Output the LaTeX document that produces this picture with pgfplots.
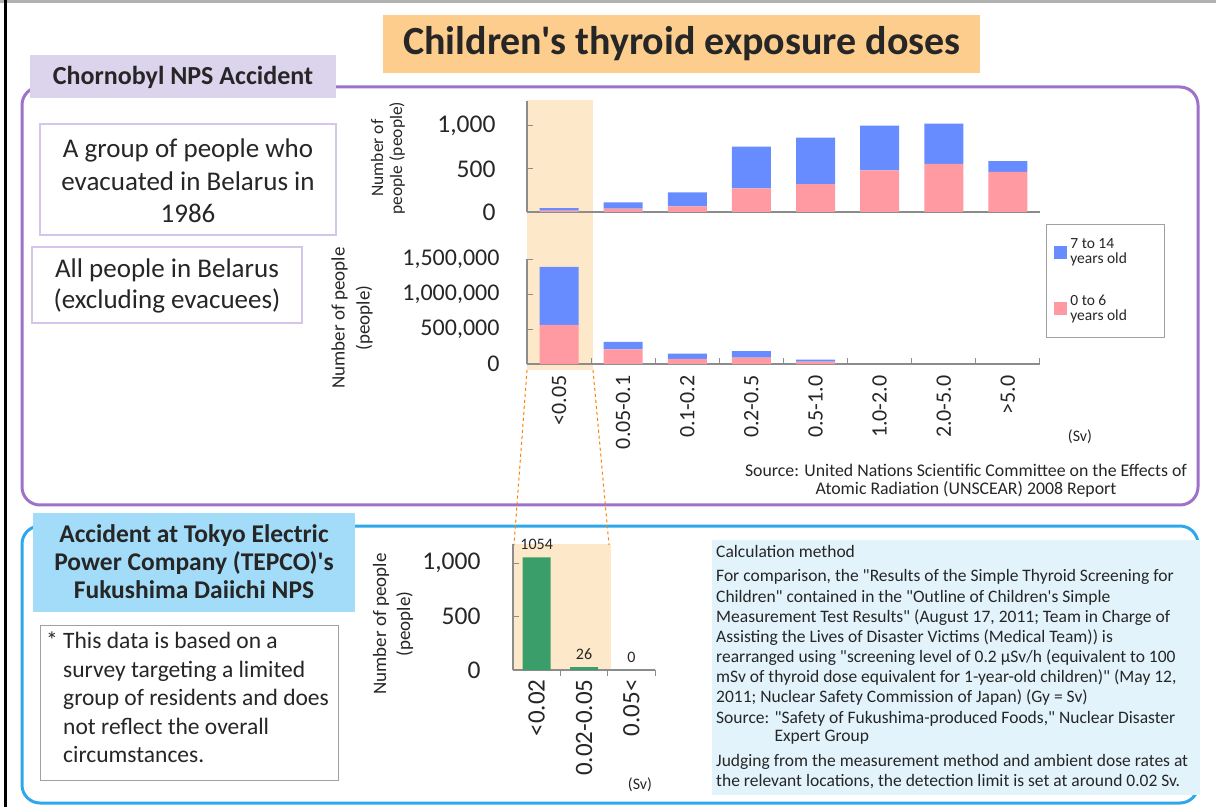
\documentclass[border=0pt]{standalone}
\usepackage{fontspec}
\setmainfont{Carlito}[Ligatures=TeXOff]
\usepackage{pgfplots}
\pgfplotsset{compat=1.18}
\definecolor{bluec}{HTML}{668CFF}
\definecolor{pinkc}{HTML}{FF9AA2}
\definecolor{greenc}{HTML}{3A9E6B}
\definecolor{purplec}{HTML}{9E72C9}
\definecolor{lavc}{HTML}{DCD3EC}
\definecolor{titleor}{HTML}{FCCD8C}
\definecolor{shadec}{HTML}{FDE8C9}
\definecolor{bluefr}{HTML}{2EA8EC}
\definecolor{bluelab}{HTML}{A3DCF8}
\definecolor{rboxc}{HTML}{E2F3FC}
\definecolor{boxpur}{HTML}{D3C6EA}
\definecolor{notegray}{HTML}{A0A0A0}
\definecolor{axgray}{HTML}{8C8C8C}
\definecolor{textc}{HTML}{262626}
\newcommand\fs[2]{\fontsize{#1}{#2}\selectfont}
\pgfplotsset{
  cbar/.style={
    scale only axis,
    axis x line*=bottom, axis y line*=left,
    axis line style={draw=axgray, line width=1.3pt},
    tick align=inside,
    major tick length=0pt, minor tick length=6pt,
    tick style={draw=axgray, line width=1pt},
    xmin=-0.5, ymin=0,
    clip=false,
    scaled y ticks=false,
    tick label style={text=textc},
  }
}
\begin{document}
\begin{tikzpicture}
\useasboundingbox (0,0) rectangle (1216pt,807pt);
\begin{scope}[x=1pt,y=-1pt,yshift=807pt]
  % outer edges
  \draw[gray!60, line width=4pt] (0,1) -- (1216,1);
  \draw[black, line width=3pt] (5,0) -- (5,807);
  % title
  \fill[titleor] (383,15) rectangle (980,73);
  % purple frame
  \draw[purplec, line width=3pt, rounded corners=18pt] (22,87) rectangle (1198,505);
  \fill[lavc] (30,55) rectangle (336,98);
  \draw[boxpur, line width=1.5pt, fill=white] (40,124) rectangle (336,235);
  \draw[boxpur, line width=1.5pt, fill=white] (32,247) rectangle (302,323);
  % blue frame
  \draw[bluefr, line width=3pt, rounded corners=18pt] (22,526) rectangle (1198,803);
  \fill[bluelab] (33,513) rectangle (355,612);
  \draw[notegray, line width=1pt, fill=white] (40,625) rectangle (338,780);
  \fill[rboxc] (712,540) rectangle (1200,795);
  % shading
  \fill[shadec] (527,100) rectangle (593,370);
  \fill[shadec] (513,544) rectangle (611,670);
  \draw[orange, dashed, line width=1pt] (527,370) -- (514,545);
  \draw[orange, dashed, line width=1pt] (593,370) -- (609,545);
\end{scope}

% top chart: evacuees
\begin{axis}[cbar, at={(527pt,595pt)}, anchor=south west,
  width=513pt, height=111pt, xmax=7.5, ymax=1290,
  ybar stacked, bar width=39pt,
  xtick=\empty, minor xtick={0.5,1.5,2.5,3.5,4.5,5.5,6.5,7.5},
  ytick={0,500,1000}, yticklabels={0,500,{1,000}},
  minor ytick={500,1000},
  yticklabel style={font=\fs{25.5}{25.5}, xshift=-28pt},
]
\addplot+[fill=pinkc, draw=none] coordinates {(0,15)(1,39)(2,66)(3,274)(4,324)(5,483)(6,560)(7,467)};
\addplot+[fill=bluec, draw=none] coordinates {(0,31)(1,73)(2,162)(3,486)(4,541)(5,521)(6,467)(7,124)};
\end{axis}

% lower chart: all Belarus
\begin{axis}[cbar, at={(527pt,443pt)}, anchor=south west,
  width=513pt, height=105pt, xmax=7.5, ymax=1510000,
  ybar stacked, bar width=39pt,
  xtick={0,1,2,3,4,5,6,7},
  xticklabels={<0.05,0.05-0.1,0.1-0.2,0.2-0.5,0.5-1.0,1.0-2.0,2.0-5.0,>5.0},
  xticklabel style={font=\fs{22}{22}, rotate=90, anchor=east, xshift=-8pt},
  minor xtick={0.5,1.5,2.5,3.5,4.5,5.5,6.5,7.5},
  ytick={0,500000,1000000,1500000}, yticklabels={0,{500,000},{1,000,000},{1,500,000}},
  minor ytick={500000,1000000,1500000},
  yticklabel style={font=\fs{24}{24}, xshift=-24pt},
  reverse legend,
  legend cell align=left,
  legend style={at={(1.0117,1.337)}, anchor=north west, draw=notegray,
    line width=0.8pt, font=\fs{15.5}{15}, text=textc,
    nodes={align=left, inner sep=3pt}, row sep=24pt,
    inner xsep=8pt, inner ysep=12pt},
  legend image code/.code={\fill[#1] (0pt,-6.5pt) rectangle (13pt,6.5pt);},
]
\addplot+[fill=pinkc, draw=none] coordinates {(0,561000)(1,210000)(2,73000)(3,93000)(4,34000)(5,0)(6,0)(7,0)};
\addlegendentry{0 to 6\\years old\hspace*{26pt}}
\addplot+[fill=bluec, draw=none] coordinates {(0,834000)(1,107000)(2,78000)(3,92000)(4,29000)(5,0)(6,0)(7,0)};
\addlegendentry{7 to 14\\years old\hspace*{26pt}}
\end{axis}

% bottom chart: Fukushima
\begin{axis}[cbar, at={(513pt,137pt)}, anchor=south west,
  width=142pt, height=126pt, xmax=2.5, ymax=1180,
  ybar, bar width=28pt,
  xtick={0,1,2}, xticklabels={<0.02,0.02-0.05,0.05<},
  xticklabel style={font=\fs{25}{25}, rotate=90, anchor=east, xshift=-6pt},
  minor xtick={0.5,1.5,2.5},
  ytick={0,500,1000}, yticklabels={0,500,{1,000}},
  minor ytick={500,1000},
  yticklabel style={font=\fs{25.5}{25.5}, xshift=-29pt},
  point meta=explicit symbolic,
  nodes near coords,
  every node near coord/.append style={font=\fs{16}{16}, text=textc, yshift=4pt},
]
\addplot+[fill=greenc, draw=none] coordinates {(0,1054)[1054] (1,26)[26] (2,0)[0]};
\end{axis}

\begin{scope}[x=1pt,y=-1pt,yshift=807pt, text=textc]
  \node[font=\bfseries\fs{40}{42}] at (682,44) {Children's thyroid exposure doses};
  \node[font=\bfseries\fs{26}{28}] at (183,77) {Chornobyl NPS Accident};
  \node[font=\fs{27}{32.5}, align=center] at (188,181) {A group of people who\\evacuated in Belarus in\\1986};
  \node[font=\fs{27}{31}, align=center] at (167,286) {All people in Belarus\\(excluding evacuees)};
  \node[font=\bfseries\fs{25.5}{28}, align=center] at (194,562) {Accident at Tokyo Electric\\Power Company (TEPCO)'s\\Fukushima Daiichi NPS};
  \node[font=\fs{23.5}{28.5}, align=left, anchor=north west, inner sep=0pt] at (46,632)
    {* This data is based on a\\\hphantom{* }survey targeting a limited\\\hphantom{* }group of residents and does\\\hphantom{* }not reflect the overall\\\hphantom{* }circumstances.};
  % axis titles
  \node[font=\fs{17.5}{19}, align=center, rotate=90] at (388,158) {Number of\\people (people)};
  \node[font=\fs{19}{25}, align=center, rotate=90] at (352,318) {Number of people\\(people)};
  \node[font=\fs{19}{24}, align=center, rotate=90] at (393,624) {Number of people\\(people)};
  \node[font=\fs{16}{16}] at (1080,437) {(Sv)};
  \node[font=\fs{16}{16}] at (640,785) {(Sv)};
  \node[font=\fs{17.8}{17.5}, align=center] at (966,481) {Source: United Nations Scientific Committee on the Effects of\\Atomic Radiation (UNSCEAR) 2008 Report};
  % right text box
  \begin{scope}[every node/.style={anchor=base west, inner sep=0pt, font=\fs{17.5}{18}}]
  \node at (716,557) {Calculation method};
  \node at (716,581) {For comparison, the "Results of the Simple Thyroid Screening for};
  \node at (716,602) {Children" contained in the "Outline of Children's Simple};
  \node at (716,622) {Measurement Test Results" (August 17, 2011; Team in Charge of};
  \node at (716,642) {Assisting the Lives of Disaster Victims (Medical Team)) is};
  \node at (716,662) {rearranged using "screening level of 0.2 µSv/h (equivalent to 100};
  \node at (716,682) {mSv of thyroid dose equivalent for 1-year-old children)" (May 12,};
  \node at (716,702) {2011; Nuclear Safety Commission of Japan) (Gy = Sv)};
  \node at (716,723) {Source: "Safety of Fukushima-produced Foods," Nuclear Disaster};
  \node at (716,741) {\hphantom{Source: }Expert Group};
  \node at (716,766) {Judging from the measurement method and ambient dose rates at};
  \node at (716,786) {the relevant locations, the detection limit is set at around 0.02 Sv.};
  \end{scope}
\end{scope}
\end{tikzpicture}
\end{document}
